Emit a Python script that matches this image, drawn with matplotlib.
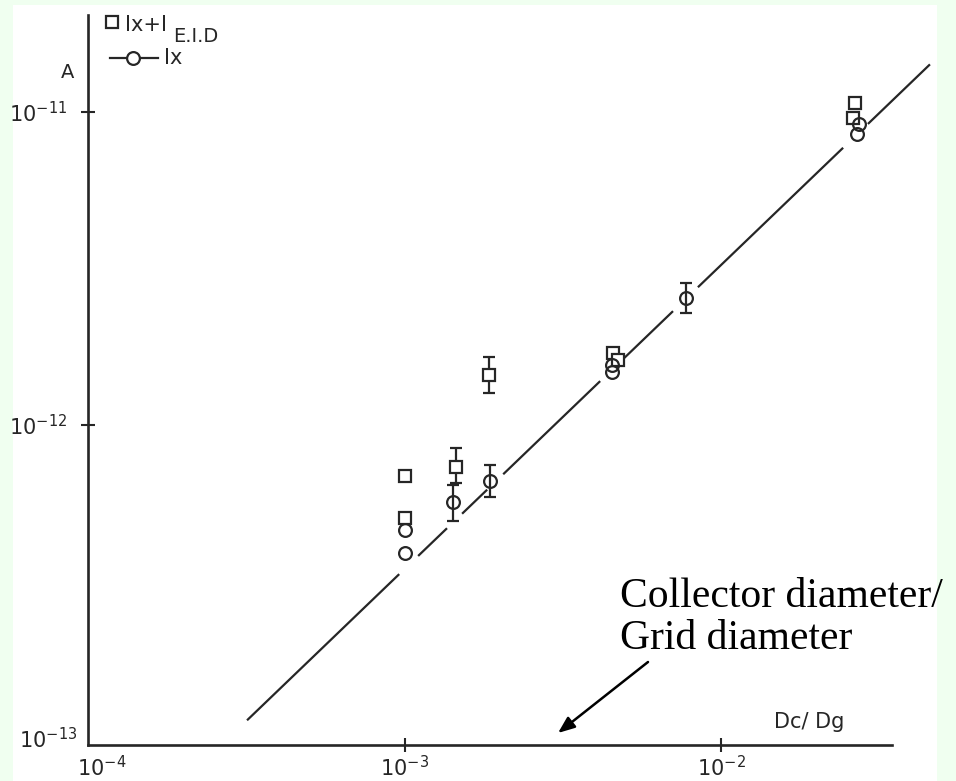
import matplotlib
matplotlib.use("Agg")
import matplotlib.pyplot as plt
from matplotlib.lines import Line2D
from matplotlib.patches import Rectangle
import numpy as np

plt.rcParams['font.family'] = ['DejaVu Sans']
plt.rcParams['mathtext.fontset'] = 'dejavusans'

# ── Data ──────────────────────────────────────────────────────────────────────
# squares: Ix + I_E.I.D
sq_x = [1.0e-3, 1.0e-3, 1.456e-3, 1.85e-3, 4.56e-3, 4.73e-3, 2.65e-2, 2.61e-2]
sq_y = [6.87e-13, 5.05e-13, 7.35e-13, 1.445e-12, 1.70e-12, 1.61e-12, 1.069e-11, 9.57e-12]
sq_err_x  = [1.456e-3, 1.85e-3]
sq_err_y  = [7.35e-13, 1.445e-12]
sq_err_lo = [6.55e-13, 1.265e-12]
sq_err_hi = [8.45e-13, 1.65e-12]

# circles: Ix
ci_x = [1.0e-3, 1.0e-3, 1.42e-3, 1.86e-3, 4.53e-3, 4.53e-3, 7.75e-3, 2.73e-2, 2.69e-2]
ci_y = [4.62e-13, 3.90e-13, 5.68e-13, 6.62e-13, 1.555e-12, 1.476e-12, 2.55e-12, 9.16e-12, 8.51e-12]
ci_err_x  = [1.42e-3, 1.86e-3, 7.75e-3]
ci_err_y  = [5.68e-13, 6.62e-13, 2.55e-12]
ci_err_lo = [4.93e-13, 5.89e-13, 2.28e-12]
ci_err_hi = [6.43e-13, 7.45e-13, 2.85e-12]

# fitted line end points and the x-ranges where it is interrupted
fit_x = [3.18e-4, 4.57e-2]
fit_y = [1.14e-13, 1.42e-11]
fit_breaks = [(9.62e-4, 1.104e-3), (1.362e-3, 1.52e-3), (1.824e-3, 2.05e-3),
              (4.15e-3, 4.90e-3), (7.05e-3, 8.45e-3), (2.43e-2, 2.91e-2)]

x_ticks = [1e-3, 1e-2]
x_tick_labels = [r"$10^{-3}$", r"$10^{-2}$"]
y_ticks = [1e-12, 1e-11]
y_tick_labels = [r"$10^{-12}$", r"$10^{-11}$"]

# ── Figure ────────────────────────────────────────────────────────────────────
W, H = 956, 781
fig = plt.figure(figsize=(W / 100, H / 100), dpi=100, facecolor="#f0fff0")
fig.patches.append(Rectangle((13 / W, 0), (937 - 13) / W, 1 - 5 / H,
                             transform=fig.transFigure, facecolor="white",
                             edgecolor="none", zorder=-5))

ax = fig.add_axes([88 / W, 1 - 745 / H, 804 / W, 730 / H])
ax.set_facecolor("none")
ink = "#262626"

ax.set_xscale("log")
ax.set_yscale("log")
ax.set_xlim(1e-4, 10 ** -1.46)
ax.set_ylim(10 ** -13.022, 10 ** -10.69)

for s in ["top", "right"]:
    ax.spines[s].set_visible(False)
for s in ["left", "bottom"]:
    ax.spines[s].set_linewidth(1.9)
    ax.spines[s].set_color(ink)

ax.set_xticks(x_ticks)
ax.set_xticklabels(x_tick_labels)
ax.set_yticks(y_ticks)
ax.set_yticklabels(y_tick_labels)
ax.minorticks_off()
ax.tick_params(axis="both", direction="inout", length=10, width=1.5, color=ink,
               labelsize=15, labelcolor=ink)
ax.tick_params(axis="x", pad=2)
ax.tick_params(axis="y", pad=10)

# fitted line, drawn in pieces (runs past the end of the x axis, as in the scan)
lx0, lx1 = np.log10(fit_x)
ly0, ly1 = np.log10(fit_y)
edges = [fit_x[0]] + [v for b in fit_breaks for v in b] + [fit_x[1]]
for a, b in zip(edges[0::2], edges[1::2]):
    xs = np.log10([a, b])
    ys = ly0 + (xs - lx0) * (ly1 - ly0) / (lx1 - lx0)
    ax.plot(10 ** xs, 10 ** ys, color=ink, lw=1.6, solid_capstyle="butt",
            zorder=1, clip_on=False)

# error bars
ax.errorbar(sq_err_x, sq_err_y,
            yerr=[np.subtract(sq_err_y, sq_err_lo), np.subtract(sq_err_hi, sq_err_y)],
            fmt="none", ecolor=ink, elinewidth=1.6, capsize=4, capthick=1.6, zorder=2)
ax.errorbar(ci_err_x, ci_err_y,
            yerr=[np.subtract(ci_err_y, ci_err_lo), np.subtract(ci_err_hi, ci_err_y)],
            fmt="none", ecolor=ink, elinewidth=1.6, capsize=4, capthick=1.6, zorder=2)

# markers
ax.plot(sq_x, sq_y, ls="none", marker="s", ms=8.3, mfc="white", mec=ink, mew=1.6, zorder=3)
ax.plot(ci_x, ci_y, ls="none", marker="o", ms=9.2, mfc="none", mec=ink, mew=1.6, zorder=3)

# corner tick labels
fig.text(102 / W, 1 - 768 / H, r"$10^{-4}$", ha="center", va="center",
         fontsize=15, color=ink)
fig.text(48 / W, 1 - 740 / H, r"$10^{-13}$", ha="center", va="center",
         fontsize=15, color=ink)

# axis labels
fig.text(68 / W, 1 - 72 / H, "A", ha="center", va="center", fontsize=14, color=ink)
fig.text(809 / W, 1 - 722 / H, "Dc/ Dg", ha="center", va="center", fontsize=15, color=ink)

# legend (hand-placed, like the hand-lettered key of the original)
key_sq = Line2D([112 / W], [1 - 22 / H], transform=fig.transFigure, ls="none",
                marker="s", ms=8.3, mfc="white", mec=ink, mew=1.6)
key_ci = Line2D([110 / W, 158 / W], [1 - 58 / H, 1 - 58 / H], transform=fig.transFigure,
                ls="-", lw=1.6, color=ink)
key_ci_m = Line2D([133 / W], [1 - 58 / H], transform=fig.transFigure, ls="none",
                  marker="o", ms=9.2, mfc="white", mec=ink, mew=1.6)
fig.lines.extend([key_ci, key_sq, key_ci_m])
fig.text(125 / W, 1 - 25 / H, "Ix+I", ha="left", va="center", fontsize=15, color=ink)
fig.text(173 / W, 1 - 37 / H, "E.I.D", ha="left", va="center", fontsize=14, color=ink)
fig.text(164 / W, 1 - 58 / H, "Ix", ha="left", va="center", fontsize=15, color=ink)

# annotation
fig.text(620 / W, 1 - 607 / H, "Collector diameter/", ha="left", va="baseline",
         fontsize=30, family="Liberation Serif", color="black")
fig.text(620 / W, 1 - 649 / H, "Grid diameter", ha="left", va="baseline",
         fontsize=30, family="Liberation Serif", color="black")
ax.annotate("", xy=(558 / W, 1 - 733 / H), xycoords="figure fraction",
            xytext=(648 / W, 1 - 662 / H), textcoords="figure fraction",
            arrowprops=dict(arrowstyle="-|>,head_length=1.0,head_width=0.4",
                            color="black", lw=1.8, shrinkA=0, shrinkB=0))

fig.savefig("out.png", dpi=100, facecolor=fig.get_facecolor())
